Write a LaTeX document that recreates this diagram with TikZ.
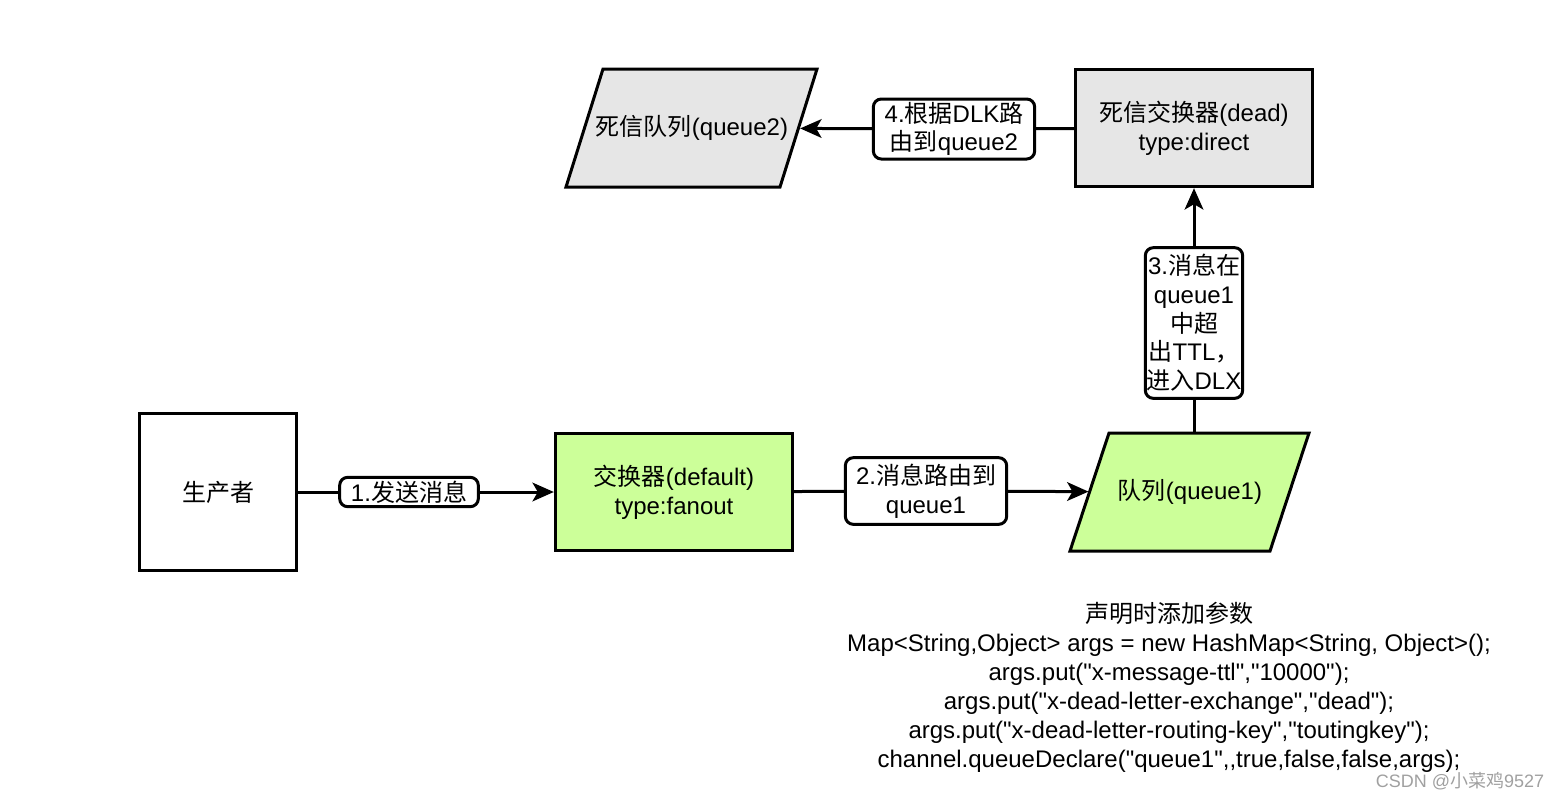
\documentclass[tikz,border=0pt]{standalone}
\usepackage{fontspec}
\setmainfont{Liberation Sans}[Ligatures=TeXOff]
\newfontfamily\cjk{Noto Sans CJK SC}
\usetikzlibrary{arrows.meta}
\definecolor{limefill}{HTML}{CCFF99}
\definecolor{deadfill}{HTML}{E6E6E6}
\definecolor{markgray}{HTML}{A0A0A0}
\newcommand{\txt}{\fontsize{18}{21.5}\selectfont}

\begin{document}
\begin{tikzpicture}[x=0.75pt,y=-0.75pt,
    box/.style={draw,line width=2.25pt,align=center,font=\txt,inner sep=2pt},
    para/.style={line width=2.25pt,font=\txt,line join=miter},
    tag/.style={draw,fill=white,rounded corners=6pt,line width=2.25pt,align=center,
      font=\txt,inner sep=1pt},
    link/.style={line width=2.25pt,-{Stealth[length=16pt,width=14pt,inset=4pt]}}]
   \useasboundingbox (0,0) rectangle (1560,800);
   \node[box,minimum width=118pt,minimum height=118pt] (prod) at (218,492) {{\cjk 生产者}};
   \node[box,fill=limefill,minimum width=178pt,minimum height=88pt] (ex) at (674,492)
     {{\cjk 交换器}(default)\\type:fanout};
   \filldraw[para,fill=limefill] (1070,551) -- (1270,551) -- (1309,433) -- (1109,433) -- cycle
     (1190,492) node[minimum width=150pt,minimum height=88pt] (q1) {{\cjk 队列}(queue1)};
   \node[box,fill=deadfill,minimum width=178pt,minimum height=88pt] (dx) at (1194,128)
     {{\cjk 死信交换器}(dead)\\type:direct};
   \filldraw[para,fill=deadfill] (566,187) -- (780,187) -- (817,69) -- (603,69) -- cycle
     (692,128) node[minimum width=160pt,minimum height=88pt] (q2) {{\cjk 死信队列}(queue2)};
   \node[tag,minimum width=104pt,minimum height=22pt] (t1) at (409,492) {1.{\cjk 发送消息}};
   \node[tag,minimum width=121pt,minimum height=50pt] (t2) at (926,491)
     {2.{\cjk 消息路由到}\\queue1};
   \node[tag,minimum width=73pt,minimum height=113pt] (t3) at (1194,323)
     {3.{\cjk 消息在}\\queue1\\{\cjk 中超}\\{\cjk 出}TTL{\cjk ，}\\{\cjk 进入}DLX};
   \node[tag,minimum width=121pt,minimum height=45pt] (t4) at (954,129)
     {4.{\cjk 根据}DLK{\cjk 路}\\{\cjk 由到}queue2};
   \draw[link] (prod) -- (t1) -- (ex);
   \draw[link] (ex) -- (t2) -- (q1);
   \draw[link] (q1.north -| t3) -- (t3) -- (dx);
   \draw[link] (dx) -- (t4) -- (q2);
   \node[align=center,font=\fontsize{18}{21.75}\selectfont] (note) at (1169,687)
     {{\cjk 声明时添加参数}\\
      Map<String,Object> args = new HashMap<String, Object>();\\
      args.put("x-message-ttl","10000");\\
      args.put("x-dead-letter-exchange","dead");\\
      args.put("x-dead-letter-routing-key","toutingkey");\\
      channel.queueDeclare("queue1",,true,false,false,args);};
   \node[text=markgray,font=\fontsize{13.5}{16}\selectfont] (mark) at (1460,781)
     {CSDN @{\cjk 小菜鸡}9527};
\end{tikzpicture}
\end{document}
